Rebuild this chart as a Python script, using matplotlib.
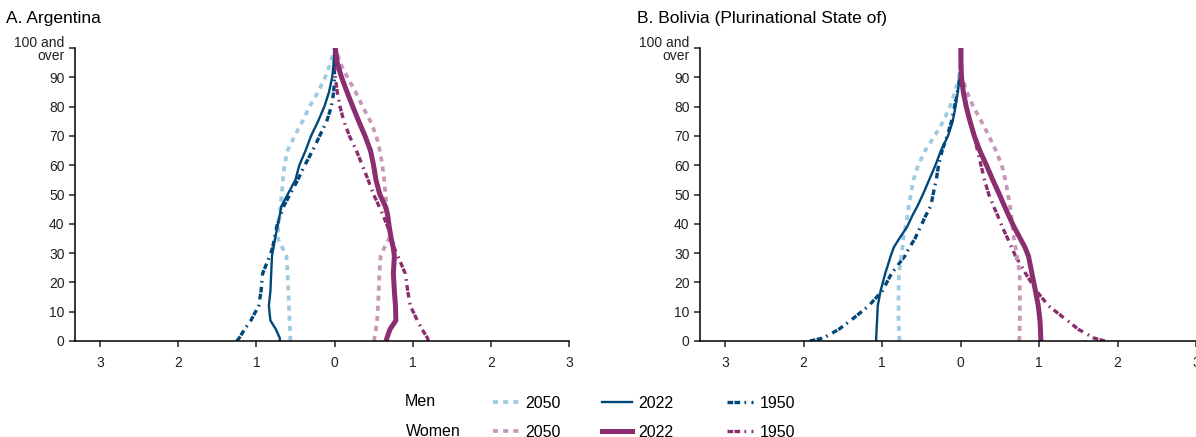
import matplotlib.pyplot as plt
from matplotlib.lines import Line2D
from matplotlib.transforms import ScaledTranslation
import numpy as np

plt.rcParams["font.family"] = ["Liberation Sans", "DejaVu Sans"]

ages = [0, 1, 4, 7, 12, 17, 23, 29, 32, 35, 39, 43, 46, 50, 55, 60, 65, 70, 75, 80, 85, 90, 95, 100]

# Argentina, percent of population by single age (men shown on the left)
arg_m2050 = [0.566, 0.566, 0.57, 0.575, 0.583, 0.59, 0.60, 0.615, 0.67, 0.725, 0.72, 0.70, 0.69, 0.675,
             0.66, 0.64, 0.60, 0.51, 0.41, 0.32, 0.21, 0.12, 0.05, 0.0]
arg_m2022 = [0.70, 0.70, 0.75, 0.82, 0.84, 0.82, 0.81, 0.80, 0.78, 0.76, 0.73, 0.70, 0.68, 0.60,
             0.50, 0.45, 0.37, 0.30, 0.21, 0.13, 0.07, 0.03, 0.01, 0.0]
arg_m1950 = [1.25, 1.22, 1.15, 1.07, 0.97, 0.94, 0.92, 0.83, 0.79, 0.77, 0.74, 0.69, 0.65, 0.57,
             0.47, 0.38, 0.28, 0.19, 0.10, 0.04, 0.01, 0.0, 0.0, 0.0]
arg_w2050 = [0.51, 0.51, 0.53, 0.545, 0.557, 0.565, 0.574, 0.59, 0.64, 0.70, 0.70, 0.685, 0.668, 0.652,
             0.636, 0.612, 0.58, 0.535, 0.46, 0.36, 0.27, 0.165, 0.07, 0.01]
arg_w2022 = [0.66, 0.67, 0.71, 0.785, 0.78, 0.766, 0.753, 0.766, 0.75, 0.725, 0.70, 0.68, 0.65, 0.58,
             0.53, 0.50, 0.46, 0.39, 0.31, 0.234, 0.16, 0.09, 0.035, 0.01]
arg_w1950 = [1.20, 1.19, 1.12, 1.06, 0.97, 0.937, 0.906, 0.81, 0.76, 0.73, 0.68, 0.62, 0.57, 0.50,
             0.43, 0.355, 0.28, 0.19, 0.12, 0.07, 0.035, 0.01, 0.0, 0.0]

# Bolivia (Plurinational State of)
bol_m2050 = [0.78, 0.78, 0.785, 0.79, 0.79, 0.79, 0.785, 0.755, 0.74, 0.73, 0.70, 0.675, 0.66, 0.635,
             0.60, 0.54, 0.45, 0.33, 0.22, 0.136, 0.07, 0.02, 0.005, 0.0]
bol_m2022 = [1.075, 1.075, 1.07, 1.064, 1.055, 1.02, 0.96, 0.89, 0.85, 0.78, 0.68, 0.61, 0.55, 0.48,
             0.40, 0.32, 0.25, 0.16, 0.10, 0.064, 0.035, 0.01, 0.0, 0.0]
bol_m1950 = [1.92, 1.75, 1.55, 1.40, 1.17, 1.00, 0.88, 0.71, 0.65, 0.58, 0.51, 0.44, 0.38, 0.35,
             0.31, 0.28, 0.235, 0.17, 0.115, 0.077, 0.04, 0.01, 0.0, 0.0]
bol_w2050 = [0.746, 0.75, 0.752, 0.755, 0.755, 0.755, 0.752, 0.72, 0.70, 0.68, 0.665, 0.645, 0.63, 0.605,
             0.57, 0.525, 0.45, 0.36, 0.265, 0.162, 0.08, 0.02, 0.01, 0.005]
bol_w2022 = [1.023, 1.022, 1.018, 1.012, 0.99, 0.955, 0.91, 0.865, 0.82, 0.76, 0.68, 0.61, 0.56, 0.495,
             0.41, 0.33, 0.245, 0.175, 0.12, 0.072, 0.035, 0.012, 0.005, 0.005]
bol_w1950 = [1.84, 1.70, 1.50, 1.36, 1.12, 0.97, 0.83, 0.70, 0.65, 0.60, 0.53, 0.47, 0.42, 0.36,
             0.305, 0.26, 0.215, 0.175, 0.12, 0.077, 0.035, 0.015, 0.0, 0.0]

titles = ["A. Argentina", "B. Bolivia (Plurinational State of)"]
years = ["2050", "2022", "1950"]
xticks = [-3, -2, -1, 0, 1, 2, 3]
yticks = [0, 10, 20, 30, 40, 50, 60, 70, 80, 90, 100]
ylabels = ["0", "10", "20", "30", "40", "50", "60", "70", "80", "90", "100 and\nover"]

light_blue = "#9fcbe1"
dark_blue = "#00487a"
light_purple = "#c797b9"
purple = "#8b2e70"

dotted = (0, (1.35, 1.35))
dashdot = (0, (1.7, 0.4, 1.7, 1.3, 0.5, 1.6))

styles = {
    "m2050": dict(color=light_blue, lw=2.7, ls=dotted),
    "m2022": dict(color=dark_blue, lw=1.7, ls="-"),
    "m1950": dict(color=dark_blue, lw=2.4, ls=dashdot),
    "w2050": dict(color=light_purple, lw=2.7, ls=dotted),
    "w2022": dict(color=purple, lw=3.6, ls="-"),
    "w1950": dict(color=purple, lw=2.4, ls=dashdot),
}

fig = plt.figure(figsize=(11.96, 4.37), dpi=100)
ax1 = fig.add_axes([75 / 1196, 96 / 437, 494 / 1196, 293 / 437])
ax2 = fig.add_axes([700 / 1196, 96 / 437, 496 / 1196, 293 / 437])

panels = [
    (ax1, dict(m2050=arg_m2050, m2022=arg_m2022, m1950=arg_m1950,
               w2050=arg_w2050, w2022=arg_w2022, w1950=arg_w1950)),
    (ax2, dict(m2050=bol_m2050, m2022=bol_m2022, m1950=bol_m1950,
               w2050=bol_w2050, w2022=bol_w2022, w1950=bol_w1950)),
]

order = ["m1950", "w1950", "m2050", "w2050", "m2022", "w2022"]
down = ScaledTranslation(0, -3 / 100, fig.dpi_scale_trans)
for ax, series in panels:
    for key in order:
        vals = np.array(series[key])
        if key.startswith("m"):
            vals = -vals
        ax.plot(vals, ages, solid_capstyle="butt", dash_capstyle="butt", **styles[key])
    ax.set_xlim(-3.32, 3.0)
    ax.set_ylim(0, 100)
    ax.set_xticks(xticks)
    ax.set_xticklabels([str(abs(t)) for t in xticks])
    ax.set_yticks(yticks)
    ax.set_yticklabels(ylabels, linespacing=0.95)
    top_label = ax.get_yticklabels()[-1]
    top_label.set_transform(top_label.get_transform() + down)
    ax.spines["top"].set_visible(False)
    ax.spines["right"].set_visible(False)
    ax.spines["left"].set_linewidth(1.1)
    ax.spines["bottom"].set_linewidth(1.1)
    ax.tick_params(direction="out", length=4.5, width=1.1, labelsize=10, pad=3, colors="#222222")
    ax.tick_params(axis="x", pad=6)

fig.text(6 / 1196, 1 - 18 / 437, titles[0], fontsize=12.5, va="center", ha="left")
fig.text(637 / 1196, 1 - 18 / 437, titles[1], fontsize=12.5, va="center", ha="left")

# legend: one small legend per year column
col_x = [493, 602, 727]
col_len = [1.6, 1.85, 1.6]
for year, x0, hl in zip(years, col_x, col_len):
    handles = [Line2D([], [], **styles["m" + year]), Line2D([], [], **styles["w" + year])]
    fig.legend(handles, [year, year], loc="upper left", bbox_to_anchor=(x0 / 1196, 1 - 396 / 437),
               frameon=False, fontsize=11.5, handlelength=hl, handletextpad=0.45,
               labelspacing=0.85, borderpad=0, borderaxespad=0)
fig.text(405 / 1196, 1 - 402 / 437, "Men", fontsize=11.5, va="center", ha="left")
fig.text(406 / 1196, 1 - 431 / 437, "Women", fontsize=11.5, va="center", ha="left")

fig.savefig("out.png", dpi=100)
